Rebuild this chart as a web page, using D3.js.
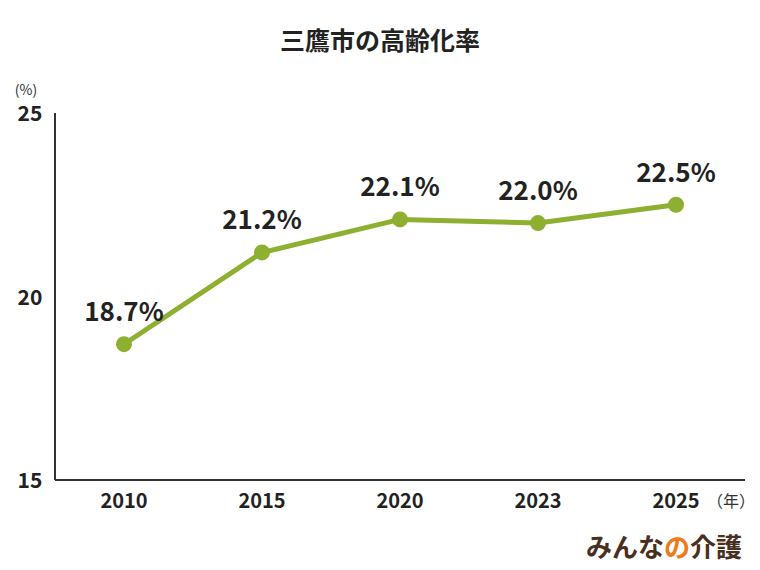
<!DOCTYPE html><html><head><meta charset="utf-8"><script src="https://cdn.jsdelivr.net/npm/d3@7"></script>
<style>body{margin:0;background:#fff}text{font-family:"Noto Sans CJK JP","Noto Sans",sans-serif}</style></head><body>
<svg id="c" width="760" height="570"></svg>
<script>
const years=["2010","2015","2020","2023","2025"];
const values=[18.7,21.2,22.1,22.0,22.5];
const yTicks=[15,20,25];
const svg=d3.select("#c");
const x=d3.scaleBand().domain(years).range([55,745]);
const y=d3.scaleLinear().domain([15,25]).range([480,113]);
const cx=d=>x(d)+x.bandwidth()/2;
svg.append("text").attr("x",380).attr("y",50).attr("text-anchor","middle").attr("font-size",25).attr("font-weight",700).attr("fill","#222").text("三鷹市の高齢化率");
svg.append("line").attr("x1",55).attr("x2",55).attr("y1",113).attr("y2",480).attr("stroke","#333").attr("stroke-width",2);
svg.append("line").attr("x1",55).attr("x2",745).attr("y1",480).attr("y2",480).attr("stroke","#333").attr("stroke-width",2);
svg.selectAll(".yt").data(yTicks).join("text").attr("x",30).attr("y",d=>y(d)+8).attr("text-anchor","middle").attr("font-size",21).attr("font-weight",700).attr("fill","#222").text(d=>d);
svg.append("text").attr("x",26).attr("y",95).attr("text-anchor","middle").attr("font-size",14).attr("fill","#333").text("(%)");
svg.selectAll(".xt").data(years).join("text").attr("x",cx).attr("y",508).attr("text-anchor","middle").attr("font-size",20).attr("font-weight",700).attr("fill","#222").text(d=>d);
svg.append("text").attr("x",731).attr("y",507).attr("text-anchor","middle").attr("font-size",16).attr("fill","#333").text("（年）");
svg.append("path").datum(values).attr("d",d3.line().x((d,i)=>cx(years[i])).y(d=>y(d))).attr("fill","none").attr("stroke","#8db030").attr("stroke-width",5);
svg.selectAll(".pt").data(values).join("circle").attr("cx",(d,i)=>cx(years[i])).attr("cy",d=>y(d)).attr("r",8).attr("fill","#8db030");
svg.selectAll(".lb").data(values).join("text").attr("x",(d,i)=>cx(years[i])).attr("y",d=>y(d)-23).attr("text-anchor","middle").attr("font-size",26).attr("font-weight",700).attr("fill","#222").text(d=>d.toFixed(1)+"%");
const lg=svg.append("text").attr("x",742).attr("y",557).attr("text-anchor","end").attr("font-size",26).attr("font-weight",700).attr("fill","#4a2f1e");
lg.append("tspan").text("みんな");lg.append("tspan").attr("fill","#ee7a1a").text("の");lg.append("tspan").text("介護");
</script></body></html>
